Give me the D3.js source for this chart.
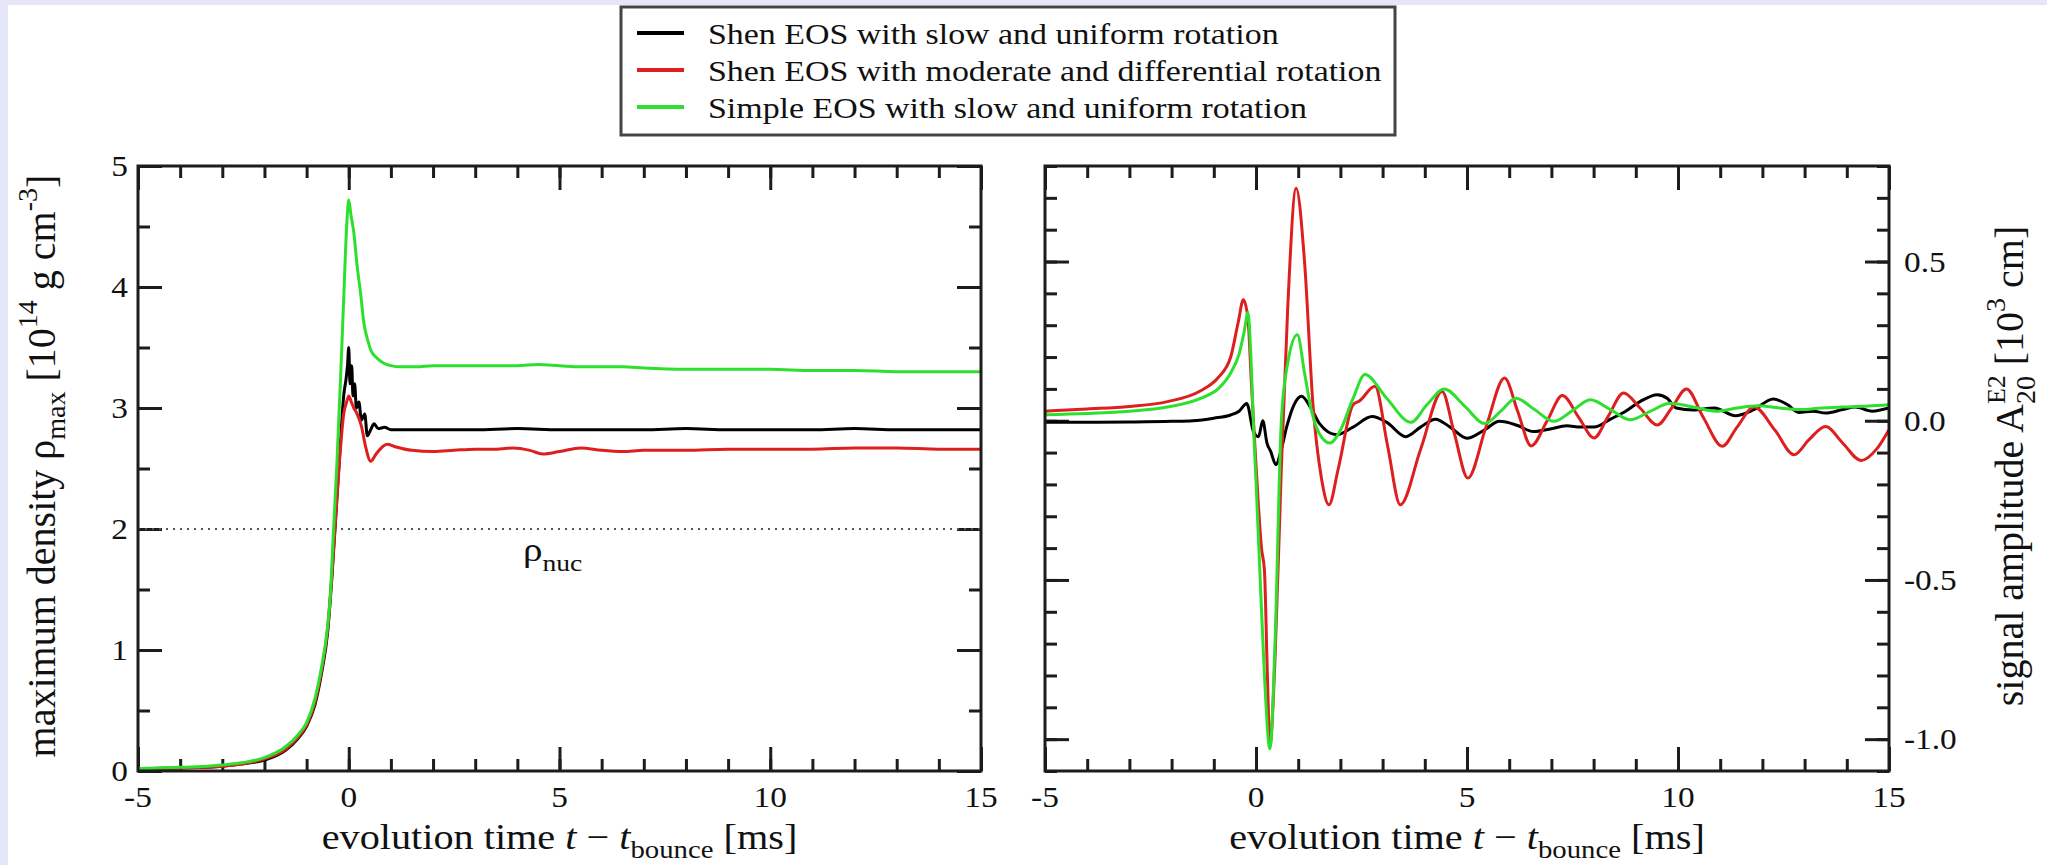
<!DOCTYPE html>
<html>
<head>
<meta charset="utf-8">
<script src="https://cdn.jsdelivr.net/npm/d3@7"></script>
<style>
  html, body { margin: 0; padding: 0; background: #e6e6fa; }
  svg { display: block; }
  text { font-family: "Liberation Serif", "Times New Roman", serif; fill: #111; }
</style>
</head>
<body>
<script>
// ---- data ----
// left panel: maximum density (10^14 g/cm^3) vs t - t_bounce (ms)
const rhoBlackT = [-5, -4, -3, -2.5, -2, -1.5, -1.2, -1, -0.8, -0.65, -0.5, -0.4, -0.3, -0.2, -0.12, -0.06, -0.03, 0, 0.03, 0.07, 0.1, 0.14, 0.18, 0.24, 0.3, 0.38, 0.44, 0.52, 0.6, 0.7, 0.85, 1, 1.5, 2, 3, 4, 5, 6, 7, 8, 9, 10, 11, 12, 13, 14, 15];
const rhoBlack  = [0.02, 0.025, 0.04, 0.06, 0.09, 0.17, 0.27, 0.37, 0.55, 0.8, 1.15, 1.6, 2.15, 2.7, 3.1, 3.25, 3.35, 3.5, 3.2, 3.35, 3.1, 3.2, 3.0, 3.05, 2.9, 2.95, 2.77, 2.82, 2.87, 2.83, 2.84, 2.82, 2.82, 2.82, 2.82, 2.83, 2.82, 2.82, 2.82, 2.83, 2.82, 2.82, 2.82, 2.83, 2.82, 2.82, 2.82];

const rhoRedT = [-5, -4, -3, -2.5, -2, -1.5, -1.2, -1, -0.8, -0.65, -0.5, -0.4, -0.3, -0.2, -0.12, -0.05, 0, 0.06, 0.12, 0.2, 0.3, 0.4, 0.52, 0.65, 0.8, 0.91, 1.1, 1.5, 2, 2.5, 3, 3.5, 3.9, 4.3, 4.6, 5, 5.5, 6, 6.5, 7, 8, 9, 10, 11, 12, 13, 14, 15];
const rhoRed  = [0.02, 0.025, 0.04, 0.06, 0.1, 0.18, 0.28, 0.38, 0.57, 0.82, 1.18, 1.62, 2.15, 2.65, 2.95, 3.05, 3.1, 3.05, 3.0, 2.95, 2.85, 2.68, 2.56, 2.62, 2.68, 2.7, 2.68, 2.65, 2.64, 2.65, 2.66, 2.66, 2.67, 2.65, 2.62, 2.64, 2.67, 2.65, 2.64, 2.65, 2.65, 2.66, 2.66, 2.66, 2.67, 2.67, 2.66, 2.66];

const rhoGreenT = [-5, -4, -3, -2.5, -2, -1.5, -1.2, -1, -0.8, -0.65, -0.5, -0.44, -0.36, -0.28, -0.2, -0.12, -0.05, 0, 0.05, 0.12, 0.2, 0.28, 0.36, 0.45, 0.52, 0.65, 0.83, 1, 1.23, 1.6, 2, 2.5, 3, 3.6, 4, 4.5, 5, 5.5, 6, 6.5, 7, 8, 9, 10, 11, 12, 13, 14, 15];
const rhoGreen  = [0.02, 0.03, 0.05, 0.07, 0.11, 0.2, 0.3, 0.4, 0.6, 0.85, 1.2, 1.44, 2.0, 2.55, 3.2, 3.9, 4.5, 4.72, 4.6, 4.45, 4.17, 3.95, 3.7, 3.56, 3.48, 3.42, 3.37, 3.35, 3.34, 3.34, 3.35, 3.35, 3.35, 3.35, 3.35, 3.36, 3.35, 3.34, 3.34, 3.34, 3.33, 3.32, 3.32, 3.32, 3.31, 3.31, 3.3, 3.3, 3.3];

// right panel: signal amplitude A20E2 (10^3 cm)
const ampBlackT = [-5, -4, -3, -2, -1.5, -1, -0.6, -0.4, -0.22, -0.06, 0.06, 0.16, 0.26, 0.35, 0.47, 0.6, 0.73, 0.9, 1.08, 1.3, 1.51, 1.91, 2.3, 2.75, 3.1, 3.55, 3.9, 4.25, 4.6, 5.0, 5.4, 5.77, 6.2, 6.57, 7.0, 7.36, 7.7, 8.01, 8.4, 8.76, 9.1, 9.51, 9.75, 9.96, 10.36, 10.86, 11.36, 11.8, 12.26, 12.6, 12.86, 13.2, 13.5, 13.9, 14.2, 14.6, 15];
const ampBlack  = [-0.005, -0.005, -0.004, -0.002, 0.0, 0.008, 0.018, 0.03, 0.054, -0.034, -0.05, 0.0, -0.07, -0.097, -0.138, -0.09, -0.018, 0.05, 0.077, 0.04, -0.01, -0.044, -0.02, 0.013, -0.005, -0.05, -0.02, 0.005, -0.02, -0.055, -0.03, -0.002, -0.015, -0.034, -0.025, -0.016, -0.02, -0.02, 0.005, 0.03, 0.06, 0.082, 0.07, 0.04, 0.034, 0.04, 0.016, 0.035, 0.068, 0.05, 0.026, 0.03, 0.024, 0.035, 0.043, 0.03, 0.04];

const ampRedT = [-5, -4, -3, -2.1, -1.3, -0.9, -0.6, -0.42, -0.3, -0.19, -0.11, -0.03, 0.05, 0.13, 0.2, 0.27, 0.33, 0.45, 0.6, 0.75, 0.95, 1.15, 1.35, 1.55, 1.73, 1.95, 2.3, 2.45, 2.82, 3.12, 3.42, 3.9, 4.41, 4.7, 5.02, 5.45, 5.89, 6.2, 6.52, 6.9, 7.26, 7.65, 8.01, 8.35, 8.71, 9.1, 9.51, 9.85, 10.2, 10.6, 11.05, 11.4, 11.8, 12.3, 12.75, 13.1, 13.5, 13.9, 14.34, 14.7, 15];
const ampRed  = [0.03, 0.037, 0.045, 0.06, 0.095, 0.135, 0.2, 0.31, 0.38, 0.32, 0.12, -0.07, -0.25, -0.4, -0.47, -0.8, -1.02, -0.75, -0.15, 0.35, 0.73, 0.5, 0.05, -0.18, -0.264, -0.15, 0.05, 0.062, 0.108, -0.08, -0.264, -0.09, 0.092, -0.04, -0.18, -0.02, 0.134, 0.03, -0.079, 0.0, 0.079, 0.01, -0.054, 0.015, 0.087, 0.04, -0.013, 0.04, 0.1, 0.01, -0.08, -0.02, 0.043, -0.03, -0.107, -0.06, -0.018, -0.07, -0.125, -0.09, -0.028];

const ampGreenT = [-5, -4, -3, -2.1, -1.3, -0.9, -0.6, -0.4, -0.28, -0.19, -0.12, -0.05, 0.0, 0.1, 0.2, 0.33, 0.45, 0.6, 0.75, 0.98, 1.15, 1.3, 1.5, 1.75, 2.0, 2.3, 2.58, 3.1, 3.67, 4.05, 4.46, 4.95, 5.42, 5.8, 6.16, 6.6, 7.06, 7.5, 7.92, 8.4, 8.86, 9.35, 9.81, 10.3, 10.9, 11.4, 11.9, 12.4, 12.9, 13.4, 13.9, 14.5, 15];
const ampGreen  = [0.019, 0.023, 0.03, 0.043, 0.071, 0.1, 0.15, 0.21, 0.28, 0.34, 0.2, -0.05, -0.19, -0.5, -0.8, -1.03, -0.7, 0.0, 0.18, 0.27, 0.15, 0.04, -0.04, -0.07, -0.03, 0.07, 0.145, 0.07, -0.005, 0.05, 0.1, 0.045, -0.009, 0.03, 0.071, 0.035, -0.002, 0.032, 0.066, 0.035, 0.003, 0.03, 0.055, 0.045, 0.03, 0.04, 0.047, 0.04, 0.035, 0.04, 0.043, 0.046, 0.05];

const legendLabels = ["Shen EOS with slow and uniform rotation",
                      "Shen EOS with moderate and differential rotation",
                      "Simple EOS with slow and uniform rotation"];
const colors = ["#000000", "#dd1f1f", "#2ee02e"];

const xMajor = [-5, 0, 5, 10, 15];
const xMinor = d3.range(-5, 15.01, 1);
const rhoMajor = [0, 1, 2, 3, 4, 5];
const rhoMinor = d3.range(0, 5.01, 0.5);
const ampMajor = [-1.0, -0.5, 0.0, 0.5];
const ampMinor = d3.range(-1.1, 0.801, 0.1).map(v => Math.round(v * 10) / 10);
const rhoNuc = 2;

// ---- layout ----
const W = 2047, H = 865;
const SX = 1.15;   // the original picture is stretched sideways
const frame = "#1c1c1c";

const svg = d3.select("body").append("svg")
    .attr("width", W).attr("height", H);

svg.append("rect").attr("x", 8).attr("y", 5)
    .attr("width", W - 8).attr("height", H - 5).attr("fill", "#fff");

function txt(g, x, y, anchor, size) {
  return g.append("text")
      .attr("transform", `translate(${x},${y}) scale(${SX},1)`)
      .attr("text-anchor", anchor)
      .style("font-size", size + "px");
}

function panel(opt) {
  const x = d3.scaleLinear().domain([-5, 15]).range([opt.x0, opt.x1]);
  const y = d3.scaleLinear().domain(opt.ydom).range([771, 166]);
  const g = svg.append("g");

  const clipId = "clip" + opt.x0;
  g.append("clipPath").attr("id", clipId).append("rect")
      .attr("x", opt.x0).attr("y", 166).attr("width", opt.x1 - opt.x0).attr("height", 605);

  // ticks, all pointing inwards
  const tick = (axis, vals, len, tr) => {
    g.append("g").attr("transform", tr)
      .call(axis.tickValues(vals).tickSize(-len).tickFormat(""))
      .call(s => s.select(".domain").remove())
      .call(s => s.selectAll("line").attr("stroke", frame).attr("stroke-width", 3));
  };
  tick(d3.axisBottom(x), xMinor, 12, "translate(0,771)");
  tick(d3.axisBottom(x), xMajor, 24, "translate(0,771)");
  tick(d3.axisTop(x), xMinor, 12, "translate(0,166)");
  tick(d3.axisTop(x), xMajor, 24, "translate(0,166)");
  tick(d3.axisLeft(y), opt.yMinor, 12, `translate(${opt.x0},0)`);
  tick(d3.axisLeft(y), opt.yMajor, 24, `translate(${opt.x0},0)`);
  tick(d3.axisRight(y), opt.yMinor, 12, `translate(${opt.x1},0)`);
  tick(d3.axisRight(y), opt.yMajor, 24, `translate(${opt.x1},0)`);

  // x tick labels
  xMajor.forEach(v => txt(g, x(v), 807, "middle", 29).text(v));
  // y tick labels
  opt.yMajor.forEach(v => {
    const t = opt.labelRight ? txt(g, opt.x1 + 15, y(v), "start", 29)
                             : txt(g, opt.x0 - 10, y(v), "end", 29);
    t.attr("dy", "0.35em").text(opt.fmt(v));
  });

  if (opt.extra) opt.extra(g, x, y);

  const line = d3.line().curve(d3.curveMonotoneX)
      .x(d => x(d[0])).y(d => y(d[1]));
  opt.series.forEach((s, i) => {
    g.append("path")
      .attr("clip-path", `url(#${clipId})`)
      .attr("d", line(d3.zip(s[0], s[1])))
      .attr("fill", "none")
      .attr("stroke", colors[i])
      .attr("stroke-width", 3)
      .attr("stroke-linejoin", "round");
  });

  g.append("rect").attr("x", opt.x0).attr("y", 166)
      .attr("width", opt.x1 - opt.x0).attr("height", 605)
      .attr("fill", "none").attr("stroke", frame).attr("stroke-width", 3);

  // x title
  const xt = txt(g, (opt.x0 + opt.x1) / 2, 849, "middle", 35);
  xt.append("tspan").text("evolution time ");
  xt.append("tspan").style("font-style", "italic").text("t");
  xt.append("tspan").text(" \u2212 ");
  xt.append("tspan").style("font-style", "italic").text("t");
  xt.append("tspan").attr("dy", 9).style("font-size", "25px").text("bounce");
  xt.append("tspan").attr("dy", -9).text(" [ms]");
  return { g, x, y };
}

panel({
  x0: 138, x1: 981, ydom: [0, 5],
  yMajor: rhoMajor, yMinor: rhoMinor, fmt: v => v,
  series: [[rhoBlackT, rhoBlack], [rhoRedT, rhoRed], [rhoGreenT, rhoGreen]],
  extra: (g, x, y) => {
    g.append("line")
      .attr("x1", x(-5)).attr("x2", x(15)).attr("y1", y(rhoNuc)).attr("y2", y(rhoNuc))
      .attr("stroke", "#555").attr("stroke-width", 2).attr("stroke-dasharray", "2,5");
    const t = txt(g, 523, 561, "start", 34);
    t.append("tspan").text("\u03c1");
    t.append("tspan").attr("dy", 10).style("font-size", "24px").text("nuc");
  }
});

panel({
  x0: 1045, x1: 1889, ydom: [-1.1, 0.8], labelRight: true,
  yMajor: ampMajor, yMinor: ampMinor, fmt: v => v.toFixed(1),
  series: [[ampBlackT, ampBlack], [ampRedT, ampRed], [ampGreenT, ampGreen]]
});

// left y title
const lt = svg.append("text")
    .attr("transform", "translate(55,466) rotate(-90)")
    .attr("text-anchor", "middle").style("font-size", "40px");
lt.append("tspan").text("maximum density \u03c1");
lt.append("tspan").attr("dy", 10).style("font-size", "28px").text("max");
lt.append("tspan").attr("dy", -10).text(" [10");
lt.append("tspan").attr("dy", -18).style("font-size", "28px").text("14");
lt.append("tspan").attr("dy", 18).text(" g cm");
lt.append("tspan").attr("dy", -18).style("font-size", "28px").text("-3");
lt.append("tspan").attr("dy", 18).text("]");

// right y title, with stacked super/subscript
const rt = svg.append("text")
    .attr("transform", "translate(2023,466) rotate(-90)")
    .attr("text-anchor", "middle").style("font-size", "40px");
rt.append("tspan").text("signal amplitude A");
const sup = rt.append("tspan").attr("dy", -18).style("font-size", "26px").text("E2");
const wSup = sup.node().getComputedTextLength();
const sub = rt.append("tspan").attr("dx", -wSup).attr("dy", 30).style("font-size", "28px").text("20");
const wSub = sub.node().getComputedTextLength();
rt.append("tspan").attr("dx", Math.max(0, wSup - wSub)).attr("dy", -12).text(" [10");
rt.append("tspan").attr("dy", -18).style("font-size", "28px").text("3");
rt.append("tspan").attr("dy", 18).text(" cm]");

// legend
const lg = svg.append("g");
lg.append("rect").attr("x", 621).attr("y", 7).attr("width", 774).attr("height", 128)
    .attr("fill", "#fff").attr("stroke", "#444").attr("stroke-width", 3);
legendLabels.forEach((d, i) => {
  const yy = 33 + i * 37;
  lg.append("line").attr("x1", 637).attr("x2", 684).attr("y1", yy).attr("y2", yy)
      .attr("stroke", colors[i]).attr("stroke-width", 4);
  txt(lg, 708, yy + 11, "start", 29.5).text(d);
});
</script>
</body>
</html>
